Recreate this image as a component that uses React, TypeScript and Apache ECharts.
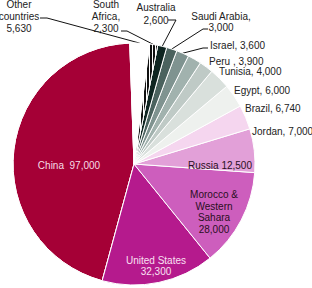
import React, { useEffect, useRef } from 'react';
import * as echarts from 'echarts';

// Phosphate rock production (thousand metric tons)
const countries = [
  'China',
  'United States',
  'Morocco & Western Sahara',
  'Russia',
  'Jordan',
  'Brazil',
  'Egypt',
  'Tunisia',
  'Peru',
  'Israel',
  'Saudi Arabia',
  'Australia',
  'South Africa',
  'Other countries',
];
const production = [97000, 32300, 28000, 12500, 7000, 6740, 6000, 4000, 3900, 3600, 3000, 2600, 2300, 5630];

// Label texts as printed on the chart
const labelNames = [
  'China',
  'United States',
  'Morocco &\nWestern\nSahara',
  'Russia',
  'Jordan,',
  'Brazil,',
  'Egypt,',
  'Tunisia,',
  'Peru ,',
  'Israel,',
  'Saudi Arabia,',
  'Australia',
  'South\nAfrica,',
  'Other\ncountries',
];
const labelSeparators = ['  ', '\n', '\n', ' ', ' ', ' ', ' ', ' ', ' ', ' ', '\n', '\n', '\n', '\n'];

const sliceColors = [
  '#a50036',
  '#b51a8d',
  '#cd5ebd',
  '#e2a0d8',
  '#f5d6ef',
  '#eef1ee',
  '#d9e0dc',
  '#bfcac6',
  '#a1b2ae',
  '#7f9390',
  '#4b625e',
  '#0f2521',
  '#ffffff',
  '#ffffff',
];
const labelColors = [
  '#f6dde6',
  '#f9e0f2',
  '#2a0f22',
  '#2a0f22',
  '#222222',
  '#222222',
  '#222222',
  '#222222',
  '#222222',
  '#222222',
  '#222222',
  '#222222',
  '#222222',
  '#222222',
];

type Placement = {
  x: number;
  y: number;
  align: 'left' | 'center' | 'right';
  lh: number;
  elbow?: number[];
  end?: number[];
};

const labelPlacement: Placement[] = [
  { x: 69, y: 165, align: 'center', lh: 12 },
  { x: 156, y: 265.5, align: 'center', lh: 11 },
  { x: 214, y: 212, align: 'center', lh: 11.5 },
  { x: 220, y: 165, align: 'center', lh: 12 },
  { x: 252, y: 131, align: 'left', lh: 12 },
  { x: 245, y: 108, align: 'left', lh: 12 },
  { x: 234, y: 90, align: 'left', lh: 12 },
  { x: 219, y: 71, align: 'left', lh: 12 },
  { x: 209, y: 61, align: 'left', lh: 12 },
  { x: 210, y: 45.5, align: 'left', lh: 12, elbow: [203, 48], end: [208, 48] },
  { x: 221, y: 21.5, align: 'center', lh: 11, elbow: [203, 29], end: [208, 29] },
  { x: 156, y: 13.5, align: 'center', lh: 13, elbow: [176, 20], end: [168, 20] },
  { x: 106, y: 16.5, align: 'center', lh: 12, elbow: [127, 31], end: [121, 31] },
  { x: 19, y: 16.5, align: 'center', lh: 12, elbow: [47, 18], end: [40, 18] },
];

const FONT = '"Liberation Sans", Arial, Helvetica, sans-serif';

export default function App() {
  const ref = useRef<HTMLDivElement>(null);

  useEffect(() => {
    if (!ref.current) return;
    const chart = echarts.init(ref.current, undefined, { renderer: 'svg' });

    const data = countries.map((name, i) => {
      const p = labelPlacement[i];
      const item: any = {
        name,
        value: production[i],
        itemStyle: { color: sliceColors[i] },
        label: { color: labelColors[i], lineHeight: p.lh },
        labelLine: { show: !!p.elbow },
      };
      if (name === 'China') {
        item.itemStyle = {
          color: sliceColors[i],
          decal: {
            symbol: 'circle',
            symbolSize: 1,
            color: 'rgba(20,0,10,0.55)',
            dashArrayX: [1, 6],
            dashArrayY: [1, 8],
            rotation: -0.5,
          },
        };
      }
      if (name === 'South Africa') {
        item.itemStyle = {
          color: '#ffffff',
          decal: {
            symbol: 'rect',
            symbolSize: 1,
            color: '#111111',
            dashArrayX: [2, 1],
            dashArrayY: [4, 0],
            rotation: 0,
          },
        };
      }
      return item;
    });

    chart.setOption({
      animation: false,
      backgroundColor: '#ffffff',
      series: [
        {
          type: 'pie',
          center: [134, 164],
          radius: 121,
          startAngle: 92,
          clockwise: false,
          avoidLabelOverlap: false,
          itemStyle: { borderColor: '#ffffff', borderWidth: 1 },
          label: {
            show: true,
            position: 'outside',
            fontFamily: FONT,
            fontSize: 10,
            formatter: (params: any) =>
              labelNames[params.dataIndex] +
              labelSeparators[params.dataIndex] +
              Number(params.value).toLocaleString('en-US'),
          },
          labelLine: {
            show: true,
            length: 5,
            length2: 5,
            smooth: false,
            lineStyle: { color: '#111111', width: 1 },
          },
          labelLayout: (params: any) => {
            const p = labelPlacement[params.dataIndex];
            const res: any = { x: p.x, y: p.y, align: p.align, verticalAlign: 'middle' };
            if (p.elbow && params.labelLinePoints) {
              const pts = params.labelLinePoints;
              res.labelLinePoints = [pts[0], p.elbow, p.end];
            }
            return res;
          },
          emphasis: { disabled: true },
          data,
        },
      ],
    });

    return () => {
      chart.dispose();
    };
  }, []);

  return (
    <div
      ref={ref}
      style={{ position: 'absolute', left: 0, top: 0, width: 312, height: 288 }}
    />
  );
}
